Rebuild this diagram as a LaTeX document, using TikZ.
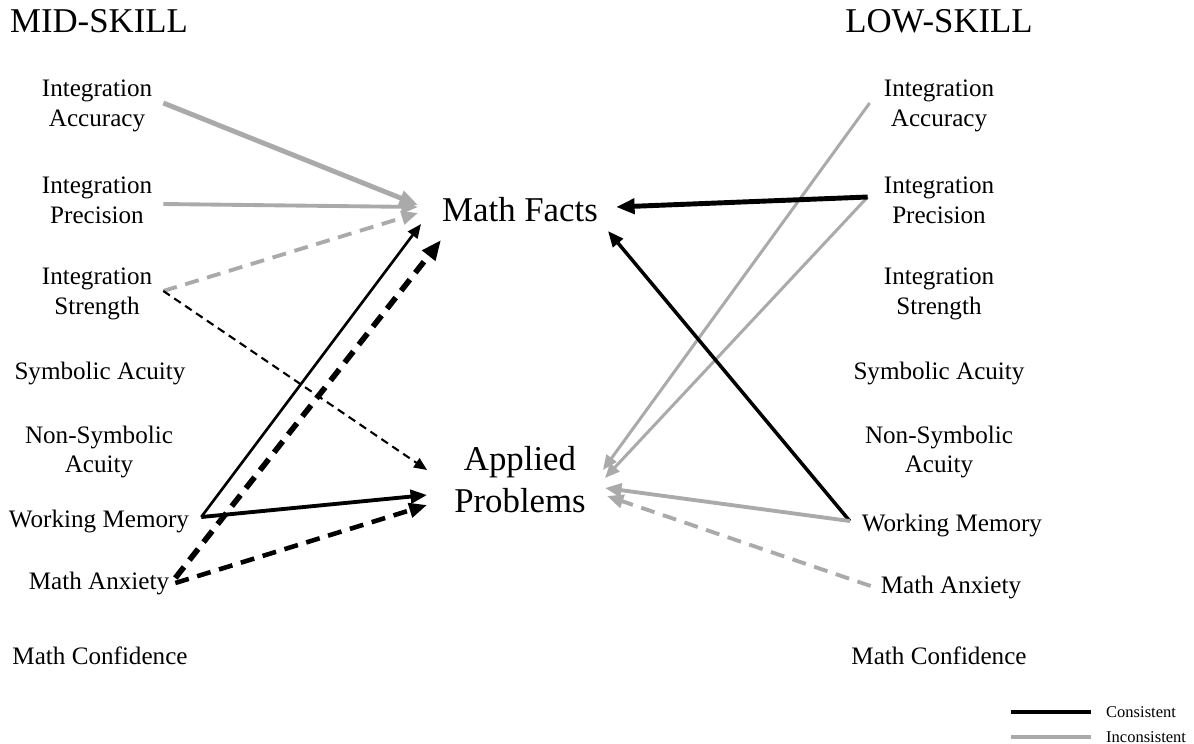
\documentclass[tikz,border=0pt]{standalone}
\usepackage{fontspec}
\setmainfont{Liberation Serif}
\usepackage{xcolor}
\usetikzlibrary{arrows.meta}
\definecolor{incgray}{RGB}{170,170,170}

\begin{document}
\begin{tikzpicture}[
    x=0.02cm, y=-0.02cm,
    every node/.style={font=\fontsize{14.3}{17}\selectfont, align=center},
    title/.style={font=\fontsize{19.8}{24}\selectfont},
    outcome/.style={font=\fontsize{19.8}{24}\selectfont},
    tip/.style={-{Triangle[length=5pt 2, width=4.5pt 1.4]}},
    cons/.style={black, tip},
    incons/.style={incgray, tip},
    longdash/.style={dash pattern=on 8pt off 5pt},
    shortdash/.style={dash pattern=on 4.5pt off 3pt},
    legend/.style={font=\fontsize{9.4}{11}\selectfont, anchor=west},
]
\useasboundingbox (0,0) rectangle (1194,744);

% =====================================================================
% Outcomes in the middle
% =====================================================================
\node[outcome] (mf) at (520,210) {Math Facts};
\node[outcome] (ap) at (520,480) {Applied\\Problems};

% =====================================================================
% MID-SKILL predictors (left)
% =====================================================================
\node[title] (mid) at (99,21) {MID-SKILL};
\node (lIA) at (97,106) {Integration\\Accuracy};
\node (lIP) at (97,200) {Integration\\Precision};
\node (lIS) at (97,294) {Integration\\Strength};
\node (lSA) at (100,373) {Symbolic Acuity};
\node (lNS) at (99,452) {Non-Symbolic\\Acuity};
\node (lWM) at (99,521) {Working Memory};
\node (lMA) at (99,583) {Math Anxiety};
\node (lMC) at (100,656) {Math Confidence};

% =====================================================================
% LOW-SKILL predictors (right)
% =====================================================================
\node[title] (low) at (939,21) {LOW-SKILL};
\node (rIA) at (939,106) {Integration\\Accuracy};
\node (rIP) at (939,200) {Integration\\Precision};
\node (rIS) at (939,294) {Integration\\Strength};
\node (rSA) at (939,373) {Symbolic Acuity};
\node (rNS) at (939,452) {Non-Symbolic\\Acuity};
\node (rWM) at (952,525) {Working Memory};
\node (rMA) at (951,587) {Math Anxiety};
\node (rMC) at (939,656) {Math Confidence};

% Mid-skill paths
\draw[incons, line width=2.8pt] ([shift={(5,-3)}]lIA.east) -- ([shift={(-18,-5)}]mf.west);
\draw[incons, line width=2.2pt] ([shift={(5,4)}]lIP.east) -- ([shift={(-18,-3)}]mf.west);
\draw[incons, longdash, line width=2.2pt] ([shift={(5,-3)}]lIS.east) -- ([shift={(-18,3)}]mf.west);
\draw[cons, shortdash, line width=1.2pt] ([shift={(5,-3)}]lIS.east) -- ([shift={(-21,-10)}]ap.west);
\draw[cons, line width=1.5pt] ([shift={(6,-4)}]lWM.east) -- ([shift={(-15,14)}]mf.west);
\draw[cons, longdash, line width=3.2pt] ([shift={(0,-5)}]lMA.east) -- ([shift={(5,30)}]mf.west);
\draw[cons, line width=2.2pt] ([shift={(6,-4)}]lWM.east) -- ([shift={(-21,15)}]ap.west);
\draw[cons, longdash, line width=2.6pt] ([shift={(0,0)}]lMA.east) -- ([shift={(-21,25)}]ap.west);

% Low-skill paths
\draw[incons, line width=1.7pt] ([shift={(-8,-3)}]rIA.west) -- ([shift={(11,-10)}]ap.east);
\draw[incons, line width=1.7pt] ([shift={(-10,-3)}]rIP.west) -- ([shift={(13,-2)}]ap.east);
\draw[cons, line width=2.8pt] ([shift={(-10,-3)}]rIP.west) -- ([shift={(12,-3)}]mf.east);
\draw[cons, line width=2pt] ([shift={(-6,-4)}]rWM.west) -- ([shift={(4,21)}]mf.east);
\draw[incons, line width=2.2pt] ([shift={(-6,-4)}]rWM.west) -- ([shift={(13,8)}]ap.east);
\draw[incons, longdash, line width=2.2pt] ([shift={(-4,-1)}]rMA.west) -- ([shift={(15,16)}]ap.east);

% =====================================================================
% Legend
% =====================================================================
\node[legend] (lgC) at (1100,712) {Consistent};
\node[legend] (lgI) at (1100,737) {Inconsistent};
\draw[black, line width=2.2pt] ([xshift=-5]lgC.west) -- ++(-80,0);
\draw[incgray, line width=2.2pt] ([xshift=-5]lgI.west) -- ++(-80,0);

\end{tikzpicture}
\end{document}
